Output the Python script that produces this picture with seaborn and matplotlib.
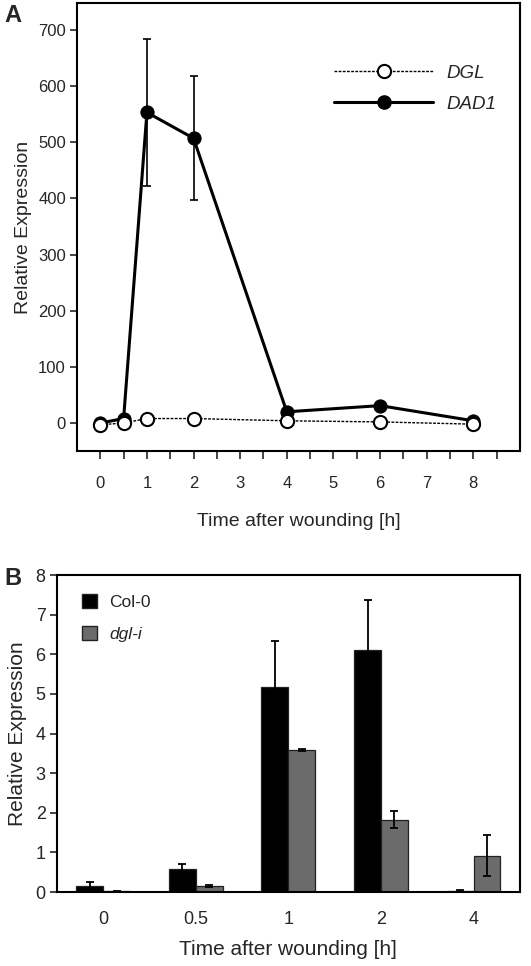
import numpy as np
import pandas as pd
import matplotlib
matplotlib.use("Agg")
import matplotlib.pyplot as plt
from matplotlib.lines import Line2D
from matplotlib.patches import Patch
import seaborn as sns

# Panel A: time course
time_a = [0, 0.5, 1, 2, 4, 6, 8]
dgl = [-3, 0, 8, 8, 4, 2, -2]
dad1 = [0, 8, 553, 507, 20, 31, 4]
dad1_err = [2, 3, 131, 110, 4, 5, 2]

# Panel B: bars
time_b = ["0", "0.5", "1", "2", "4"]
col0 = [0.16, 0.58, 5.18, 6.11, 0.03]
col0_err = [0.08, 0.13, 1.15, 1.27, 0.02]
dgli = [0.02, 0.15, 3.59, 1.83, 0.92]
dgli_err = [0.01, 0.03, 0.02, 0.22, 0.51]

sns.set_style("white")
plt.rcParams['font.family'] = ['Liberation Sans', 'DejaVu Sans']

fig = plt.figure(figsize=(5.31, 9.66), dpi=100)
ax1 = fig.add_axes([0.145, 0.533, 0.834, 0.464])
ax2 = fig.add_axes([0.107, 0.0766, 0.872, 0.328])

# ---- Panel A
df_a = pd.DataFrame({"time": time_a * 2,
                     "value": dgl + dad1,
                     "gene": ["DGL"] * len(time_a) + ["DAD1"] * len(time_a)})

ax1.errorbar(time_a, dad1, yerr=dad1_err, fmt='none', ecolor='black',
             elinewidth=1.2, capsize=3, capthick=1.2, zorder=2)
sns.lineplot(data=df_a[df_a.gene == "DAD1"], x="time", y="value", ax=ax1,
             color='black', lw=2.2, marker='o', markersize=9.5,
             markerfacecolor='black', markeredgecolor='black', zorder=3)
sns.lineplot(data=df_a[df_a.gene == "DGL"], x="time", y="value", ax=ax1,
             color='black', lw=1.0, linestyle=(0, (2, 1)), marker='o', markersize=9.5,
             markerfacecolor='white', markeredgecolor='black', markeredgewidth=1.5,
             zorder=4)

ax1.set_xlim(-0.5, 9)
ax1.set_ylim(-50, 748)
ax1.set_yticks(range(0, 701, 100))
ticks = np.arange(0, 9, 0.5)
ax1.set_xticks(ticks)
ax1.set_xticklabels([str(int(t)) if t == int(t) else "" for t in ticks])
ax1.tick_params(axis='x', direction='out', length=6, width=1.2, pad=12,
                labelsize=12, bottom=True)
ax1.tick_params(axis='y', direction='out', length=5, width=1.2, pad=3,
                labelsize=12, left=True)
for s in ax1.spines.values():
    s.set_linewidth(1.5)
    s.set_color('black')
ax1.set_xlabel("Time after wounding [h]", fontsize=14, labelpad=16)
ax1.set_ylabel("Relative Expression", fontsize=14, labelpad=4)

h_a = [Line2D([], [], color='black', lw=1.0, linestyle=(0, (2, 1)), marker='o',
              markersize=9.5, markerfacecolor='white', markeredgewidth=1.5),
       Line2D([], [], color='black', lw=2.2, marker='o', markersize=9.5,
              markerfacecolor='black')]
leg = ax1.legend(h_a, ["DGL", "DAD1"], loc='upper right',
                 bbox_to_anchor=(0.985, 0.9), frameon=False, handlelength=5.3,
                 handletextpad=0.7,
                 prop={'style': 'italic', 'size': 13.5}, labelspacing=0.75)

fig.text(0.008, 0.996, "A", fontsize=17, fontweight='bold', va='top')

# ---- Panel B
df_b = pd.DataFrame({"time": time_b * 2,
                     "value": col0 + dgli,
                     "line": ["Col-0"] * len(time_b) + ["dgl-i"] * len(time_b)})
pal = {"Col-0": "black", "dgl-i": "#6b6b6b"}
sns.barplot(data=df_b, x="time", y="value", hue="line", palette=pal, ax=ax2,
            width=0.58, edgecolor='#222222', linewidth=0.9, legend=False,
            saturation=1)

errs = col0_err + dgli_err
vals = col0 + dgli
for p, v, e in zip(ax2.patches, vals, errs):
    xc = p.get_x() + p.get_width() / 2
    ax2.errorbar(xc, v, yerr=e, fmt='none', ecolor='black', elinewidth=1.3,
                 capsize=3, capthick=1.3, zorder=5)

ax2.set_ylim(0, 8)
ax2.set_xlim(-0.5, 4.5)
ax2.set_yticks(range(0, 9))
ax2.set_xticks(np.arange(-0.5, 4.6, 1))
ax2.set_xticklabels([])
ax2.set_xticks(range(5), minor=True)
ax2.set_xticklabels(time_b, minor=True)
ax2.tick_params(axis='x', which='major', direction='out', length=6, width=1.2)
ax2.tick_params(axis='x', which='minor', length=0, pad=14, labelsize=13)
ax2.tick_params(axis='y', direction='out', length=5, width=1.2, labelsize=13,
                left=True, pad=3)
for s in ax2.spines.values():
    s.set_linewidth(1.5)
    s.set_color('black')
ax2.set_xlabel("Time after wounding [h]", fontsize=15, labelpad=8)
ax2.set_ylabel("Relative Expression", fontsize=15, labelpad=6)

h_b = [Patch(facecolor='black', edgecolor='#222222'),
       Patch(facecolor='#6b6b6b', edgecolor='#222222')]
leg2 = ax2.legend(h_b, ["Col-0", "dgl-i"], loc='upper left',
                  bbox_to_anchor=(0.02, 0.99), frameon=False,
                  handlelength=0.9, handleheight=0.9, fontsize=12.5,
                  labelspacing=0.9, handletextpad=0.7)
leg2.get_texts()[1].set_style('italic')

fig.text(0.008, 0.413, "B", fontsize=17, fontweight='bold', va='top')

fig.savefig("out.png", dpi=100)
